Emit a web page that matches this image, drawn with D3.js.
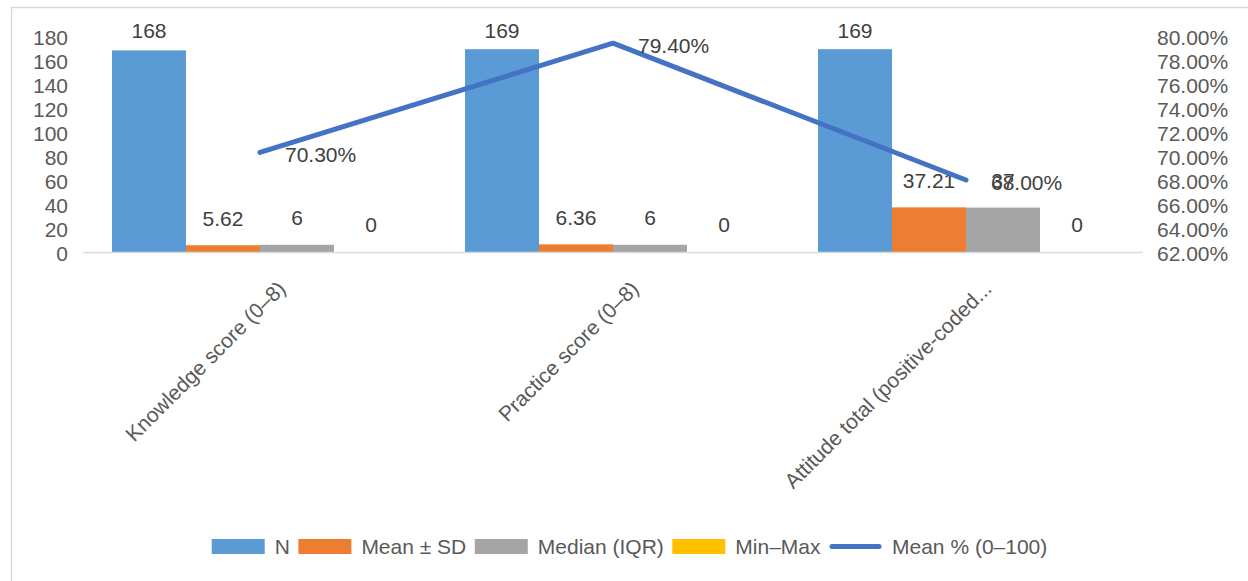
<!DOCTYPE html>
<html>
<head>
<meta charset="utf-8">
<script src="https://cdn.jsdelivr.net/npm/d3@7"></script>
<style>
  html, body { margin: 0; padding: 0; background: #fff; }
  svg { display: block; font-family: "Liberation Sans", Arial, sans-serif; }
</style>
</head>
<body>
<svg id="chart" width="1248" height="581"></svg>
<script>
// ---- data ----
const categories = ["Knowledge score (0–8)", "Practice score (0–8)", "Attitude total (positive-coded..."];
const barSeries = ["N", "Mean ± SD", "Median (IQR)", "Min–Max"];
const nValues = [168, 169, 169];
const meanValues = [5.62, 6.36, 37.21];
const medianValues = [6, 6, 37];
const minMaxValues = [0, 0, 0];
const meanPctValues = [0.703, 0.794, 0.68];
const lineSeries = "Mean % (0–100)";
const leftTicks = [0, 20, 40, 60, 80, 100, 120, 140, 160, 180];
const rightTicks = [0.62, 0.64, 0.66, 0.68, 0.70, 0.72, 0.74, 0.76, 0.78, 0.80];

const barColors = ["#5B9BD5", "#ED7D31", "#A5A5A5", "#FFC000"];
const lineColor = "#4472C4";
const seriesValues = [nValues, meanValues, medianValues, minMaxValues];
const FS = "21px";

const svg = d3.select("#chart");

// chart border
svg.append("rect").attr("x", 11.5).attr("y", 7.5).attr("width", 1300).attr("height", 700)
  .attr("fill", "none").attr("stroke", "#d9d9d9").attr("stroke-width", 1.5);

const plotL = 83.5, plotR = 1142.5, plotTop = 36, plotBottom = 252;

const x0 = d3.scaleBand().domain(categories).range([plotL, plotR]).paddingInner(0).paddingOuter(0);
const bw = x0.bandwidth();
const gapRatio = 0.77;
const barW = bw / (barSeries.length + gapRatio);
const x1 = d3.scaleBand().domain(barSeries)
  .range([gapRatio * barW / 2, bw - gapRatio * barW / 2]).padding(0);

const y = d3.scaleLinear().domain([0, 180]).range([plotBottom, plotTop]);
const yR = d3.scaleLinear().domain([0.62, 0.80]).range([plotBottom, plotTop]);

// left axis labels
const leftAxis = d3.axisLeft(y).tickValues(leftTicks).tickSize(0).tickPadding(0);
const gL = svg.append("g").attr("transform", "translate(68,0)").call(leftAxis);
gL.select(".domain").remove();
gL.selectAll("text").attr("fill", "#595959").style("font-size", FS)
  .style("font-family", "'Liberation Sans', Arial, sans-serif").attr("dy", "0.4em");

// right axis labels
const rightAxis = d3.axisRight(yR).tickValues(rightTicks).tickSize(0).tickPadding(0).tickFormat(d3.format(".2%"));
const gR = svg.append("g").attr("transform", "translate(1157,0)").call(rightAxis);
gR.select(".domain").remove();
gR.selectAll("text").attr("fill", "#595959").style("font-size", FS)
  .style("font-family", "'Liberation Sans', Arial, sans-serif").attr("dy", "0.4em");

// bars
const rows = [];
categories.forEach((c, ci) => {
  barSeries.forEach((s, si) => rows.push({ cat: c, ser: s, si, v: seriesValues[si][ci] }));
});

svg.append("g").selectAll("rect").data(rows).join("rect")
  .attr("x", d => x0(d.cat) + x1(d.ser))
  .attr("width", x1.bandwidth())
  .attr("y", d => y(d.v))
  .attr("height", d => y(0) - y(d.v))
  .attr("fill", d => barColors[d.si]);

// baseline axis
svg.append("line").attr("x1", plotL).attr("x2", plotR).attr("y1", plotBottom + 0.5).attr("y2", plotBottom + 0.5)
  .attr("stroke", "#d9d9d9").attr("stroke-width", 1.5);

// bar labels
svg.append("g").selectAll("text").data(rows).join("text")
  .attr("x", d => x0(d.cat) + x1(d.ser) + x1.bandwidth() / 2)
  .attr("y", d => Math.max(y(d.v) - 27, 31))
  .attr("dy", "0.35em")
  .attr("text-anchor", "middle")
  .attr("fill", "#404040").style("font-size", FS)
  .text(d => d3.format("~r")(d.v));

// line
const pts = categories.map((c, i) => ({ x: x0(c) + bw / 2, y: yR(meanPctValues[i]), v: meanPctValues[i] }));
svg.append("path").datum(pts)
  .attr("d", d3.line().x(d => d.x).y(d => d.y))
  .attr("fill", "none").attr("stroke", lineColor).attr("stroke-width", 5)
  .attr("stroke-linecap", "round").attr("stroke-linejoin", "round");

svg.append("g").selectAll("text").data(pts).join("text")
  .attr("x", d => d.x + 25).attr("y", d => d.y + 2.5).attr("dy", "0.35em")
  .attr("fill", "#404040").style("font-size", FS)
  .text(d => d3.format(".2%")(d.v));

// category labels
svg.append("g").selectAll("text").data(categories).join("text")
  .attr("transform", c => `translate(${x0(c) + bw / 2 + 27},${plotBottom + 38}) rotate(-45)`)
  .attr("text-anchor", "end")
  .attr("fill", "#595959").style("font-size", FS)
  .text(c => c);

// legend
const legendItems = barSeries.map((s, i) => ({ name: s, type: "rect", color: barColors[i] }))
  .concat([{ name: lineSeries, type: "line", color: lineColor }]);
const lg = svg.append("g");
const legendY = 546.5;
const items = lg.selectAll("g").data(legendItems).join("g");
items.append("text").attr("y", legendY).attr("dy", "0.35em")
  .attr("fill", "#595959").style("font-size", FS).text(d => d.name);
let widths = [];
items.select("text").each(function () { widths.push(this.getComputedTextLength()); });
const symW = 53, symGap = 10, itemGap = 8.5;
const total = d3.sum(widths) + legendItems.length * (symW + symGap) + (legendItems.length - 1) * itemGap;
let cx = 629.5 - total / 2;
items.each(function (d, i) {
  const g = d3.select(this);
  if (d.type === "rect") {
    g.append("rect").attr("x", cx).attr("y", legendY - 7.5).attr("width", symW).attr("height", 15).attr("fill", d.color);
  } else {
    g.append("line").attr("x1", cx + 3).attr("x2", cx + symW - 3).attr("y1", legendY).attr("y2", legendY)
      .attr("stroke", d.color).attr("stroke-width", 5).attr("stroke-linecap", "round");
  }
  g.select("text").attr("x", cx + symW + symGap);
  cx += symW + symGap + widths[i] + itemGap;
});
</script>
</body>
</html>
